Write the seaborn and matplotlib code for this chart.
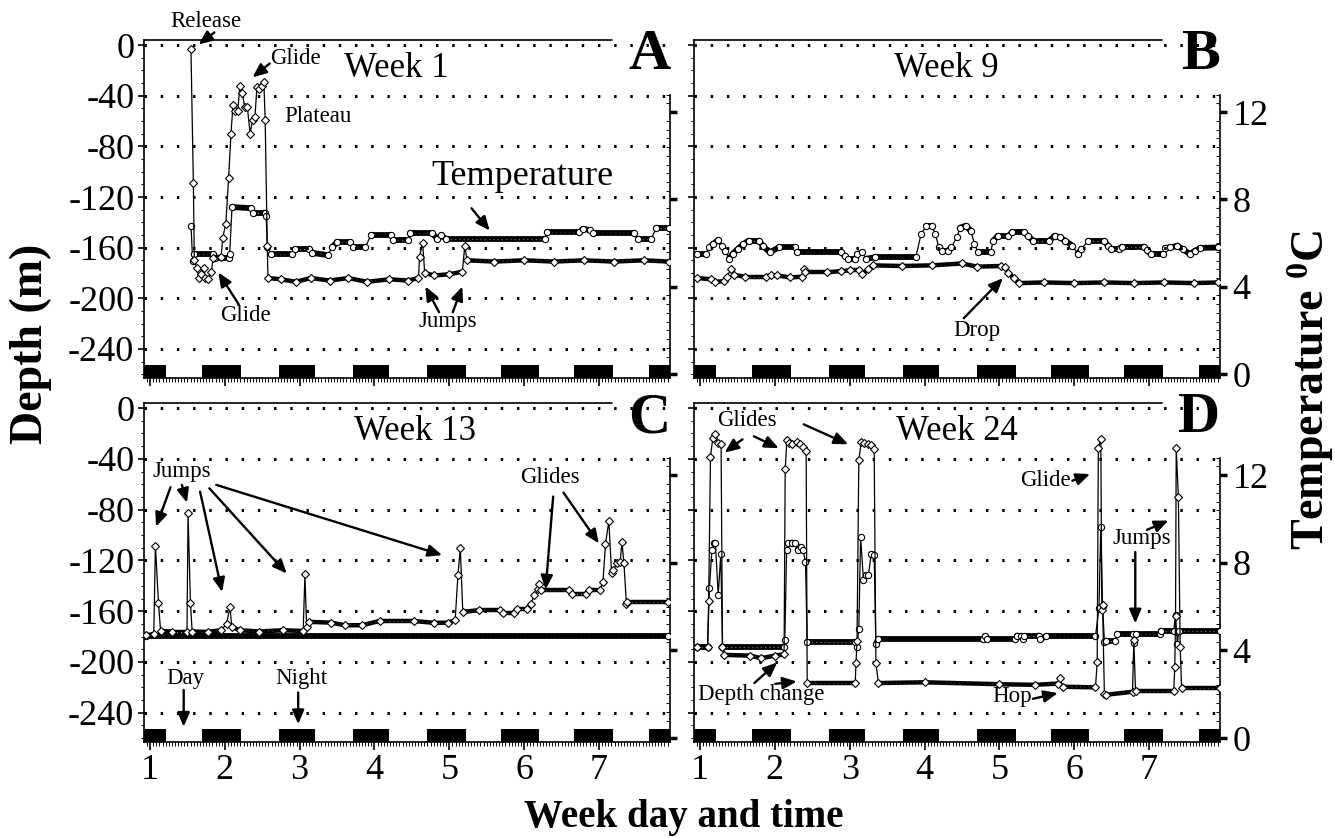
import numpy as np
import seaborn as sns
import matplotlib
matplotlib.use("Agg")
import matplotlib.pyplot as plt
from matplotlib.collections import LineCollection
from matplotlib.ticker import FixedLocator, MultipleLocator

# ---- values: (week day, value) pairs ---------------------------------------
A_DEPTH = [(1.547, -3), (1.579, -109), (1.592, -170), (1.624, -176), (1.652, -184),
           (1.684, -181), (1.716, -176), (1.739, -184), (1.775, -185), (1.821, -179),
           (1.844, -168), (1.950, -167), (1.972, -152), (2.013, -141), (2.050, -105),
           (2.082, -70), (2.109, -47), (2.141, -52), (2.173, -52), (2.201, -32),
           (2.233, -38), (2.265, -49), (2.301, -49), (2.338, -70), (2.370, -59),
           (2.402, -57), (2.429, -33), (2.461, -35), (2.493, -32), (2.521, -29),
           (2.539, -59), (2.567, -159), (2.576, -184), (2.75, -185), (2.95, -187),
           (3.15, -184), (3.40, -186), (3.65, -184), (3.90, -187), (4.20, -185),
           (4.45, -186), (4.588, -184), (4.602, -167), (4.643, -156), (4.671, -180),
           (4.80, -182), (5.00, -181), (5.174, -179), (5.206, -159), (5.238, -170),
           (5.60, -171), (6.00, -170), (6.40, -171), (6.80, -170), (7.20, -171),
           (7.60, -170), (7.93, -171)]
A_TEMP = [(1.547, 6.8), (1.570, 5.2), (1.592, 5.5), (1.844, 5.5), (1.867, 5.3),
          (2.050, 5.3), (2.064, 5.5), (2.096, 7.65), (2.347, 7.6), (2.370, 7.4),
          (2.530, 7.4), (2.553, 7.25), (2.567, 5.8), (2.620, 5.5), (2.896, 5.5),
          (2.940, 5.75), (3.125, 5.75), (3.170, 5.55), (3.376, 5.45), (3.430, 5.8),
          (3.500, 6.05), (3.674, 6.05), (3.719, 5.8), (3.879, 5.8), (3.948, 6.35),
          (4.222, 6.35), (4.245, 6.15), (4.451, 6.15), (4.474, 6.45), (4.771, 6.45),
          (4.840, 6.2), (4.890, 6.35), (4.954, 6.2), (6.281, 6.2), (6.304, 6.5),
          (6.738, 6.5), (6.784, 6.65), (6.876, 6.6), (6.921, 6.45), (7.470, 6.45),
          (7.516, 6.2), (7.699, 6.2), (7.767, 6.7), (7.93, 6.7)]

B_DEPTH = [(0.958, -184), (1.148, -185), (1.200, -187), (1.315, -186.5), (1.362, -183),
           (1.410, -177), (1.457, -181.5), (1.600, -183), (1.885, -183), (1.950, -181.5),
           (2.028, -182), (2.200, -183.5), (2.361, -183), (2.385, -177), (2.409, -179.5),
           (2.700, -179.5), (2.884, -178.5), (3.000, -178), (3.122, -178), (3.170, -181),
           (3.250, -177), (3.312, -174), (3.700, -174.5), (4.100, -174), (4.501, -172.5),
           (4.700, -175), (5.024, -174.5), (5.072, -175), (5.120, -180), (5.191, -184),
           (5.262, -188), (5.600, -187.5), (6.000, -188), (6.400, -187.5), (6.800, -188),
           (7.200, -187.5), (7.600, -188), (7.926, -187.5)]
B_TEMP = [(0.958, 5.5), (1.077, 5.5), (1.125, 5.8), (1.172, 5.95), (1.243, 6.14),
          (1.291, 5.88), (1.339, 5.65), (1.386, 5.28), (1.434, 5.5), (1.505, 5.73),
          (1.576, 5.95), (1.648, 6.11), (1.790, 6.11), (1.838, 5.88), (1.933, 5.58),
          (2.052, 5.8), (2.266, 5.8), (2.290, 5.58), (2.884, 5.58), (2.932, 5.43),
          (2.979, 5.28), (3.074, 5.28), (3.098, 5.5), (3.170, 5.58), (3.217, 5.28),
          (3.336, 5.35), (3.883, 5.35), (3.954, 6.41), (4.026, 6.79), (4.097, 6.79),
          (4.145, 6.41), (4.192, 5.8), (4.240, 5.65), (4.311, 5.65), (4.359, 5.8),
          (4.430, 6.26), (4.478, 6.71), (4.549, 6.79), (4.620, 6.56), (4.668, 5.95),
          (4.715, 5.58), (4.882, 5.58), (4.920, 6.11), (4.977, 6.33), (5.120, 6.33),
          (5.167, 6.49), (5.334, 6.49), (5.381, 6.33), (5.452, 6.11), (5.666, 6.11),
          (5.738, 6.33), (5.809, 6.26), (5.880, 6.11), (5.976, 5.88), (6.047, 5.5),
          (6.095, 5.73), (6.190, 6.11), (6.404, 6.11), (6.451, 5.88), (6.499, 5.73),
          (6.594, 5.73), (6.641, 5.84), (6.927, 5.84), (6.974, 5.69), (7.022, 5.5),
          (7.188, 5.5), (7.212, 5.78), (7.283, 5.8), (7.379, 5.88), (7.450, 5.73),
          (7.545, 5.5), (7.616, 5.65), (7.688, 5.78), (7.926, 5.8)]

C_DEPTH = [(0.943, -179), (1.050, -178), (1.072, -108.7), (1.113, -153.4), (1.141, -175.6),
           (1.300, -176), (1.494, -176), (1.508, -82.9), (1.540, -153.4), (1.563, -176),
           (1.770, -176.3), (1.954, -175), (2.023, -169.8), (2.069, -156.6), (2.092, -172.4),
           (2.200, -175), (2.459, -176), (2.781, -175), (3.047, -175.6), (3.070, -131),
           (3.093, -172.4), (3.126, -168.4), (3.424, -169), (3.608, -171.1), (3.838, -171),
           (4.068, -167.7), (4.527, -167.7), (4.800, -169.2), (4.987, -169), (5.078, -167.1),
           (5.115, -131.6), (5.147, -110.5), (5.180, -160.5), (5.400, -159.2), (5.676, -159.2),
           (5.722, -161.3), (5.860, -161.3), (5.906, -157.9), (6.043, -157.9), (6.089, -154),
           (6.135, -147.4), (6.181, -142.9), (6.204, -138.2), (6.227, -143.4), (6.595, -143.4),
           (6.641, -146.1), (6.825, -146.1), (6.871, -143.4), (7.008, -143.4), (7.054, -136.9),
           (7.087, -107.1), (7.132, -89), (7.169, -130.3), (7.192, -127.7), (7.238, -122.4),
           (7.284, -121), (7.307, -105.3), (7.334, -122.4), (7.367, -154), (7.376, -152.7),
           (7.927, -152.7)]
C_TEMP = [(0.943, 4.64), (7.927, 4.64)]

D_DEPTH = [(0.958, -188), (1.101, -188), (1.115, -151.8), (1.139, -38.4), (1.172, -23.3),
           (1.196, -20.7), (1.243, -27.6), (1.281, -28.3), (1.300, -188), (1.315, -194.4),
           (1.671, -195), (1.814, -197), (2.000, -195), (2.123, -194), (2.138, -48),
           (2.161, -24.8), (2.195, -27.4), (2.233, -28.5), (2.290, -27), (2.337, -28),
           (2.375, -30.5), (2.418, -34.2), (2.432, -216.6), (3.074, -216.6), (3.084, -201),
           (3.098, -183.4), (3.122, -41), (3.155, -26.5), (3.193, -27.3), (3.241, -28),
           (3.288, -28.8), (3.327, -32), (3.350, -201), (3.384, -216.6), (4.000, -216),
           (5.000, -217.5), (5.476, -218), (5.780, -217), (5.810, -213), (5.850, -219.5),
           (6.285, -220), (6.308, -200), (6.323, -31.6), (6.356, -24.4), (6.370, -159),
           (6.380, -155), (6.404, -225), (6.426, -225.8), (6.780, -223.5), (6.798, -183),
           (6.820, -223), (7.331, -223), (7.345, -203.6), (7.355, -164), (7.364, -31.6),
           (7.393, -70.3), (7.417, -188), (7.436, -220.5), (7.950, -220.5)]
D_TEMP = [(0.958, 4.17), (1.101, 4.17), (1.125, 6.83), (1.158, 8.58), (1.186, 8.89),
          (1.205, 8.9), (1.243, 6.53), (1.277, 8.4), (1.300, 4.17), (2.123, 4.17),
          (2.133, 4.47), (2.157, 8.58), (2.180, 8.89), (2.233, 8.92), (2.266, 8.89),
          (2.304, 8.6), (2.347, 8.72), (2.375, 8.6), (2.409, 8.05), (2.432, 4.4),
          (3.074, 4.4), (3.098, 4.17), (3.122, 5.0), (3.146, 9.2), (3.184, 7.2),
          (3.217, 7.45), (3.250, 7.45), (3.288, 8.4), (3.327, 8.37), (3.350, 4.3),
          (3.384, 4.5), (4.780, 4.5), (4.810, 4.65), (4.840, 4.5), (5.215, 4.5),
          (5.240, 4.68), (5.290, 4.68), (5.310, 4.5), (5.330, 4.68), (5.524, 4.68),
          (5.548, 4.5), (5.619, 4.65), (6.285, 4.65), (6.332, 5.92), (6.356, 9.65),
          (6.380, 6.03), (6.404, 4.4), (6.426, 4.45), (6.545, 4.45), (6.570, 4.75),
          (6.780, 4.75), (6.798, 4.33), (6.820, 4.75), (7.141, 4.75), (7.160, 4.9),
          (7.331, 4.9), (7.355, 5.62), (7.379, 4.3), (7.400, 4.9), (7.950, 4.9)]

# night bars (start, end in week days)
NIGHT_START = [0.92, 1.70, 2.72, 3.71, 4.70, 5.69, 6.67, 7.67]
NIGHT_END = [1.21, 2.21, 3.21, 4.20, 5.22, 6.20, 7.19, 7.95]

DAY_TICKS = [1, 2, 3, 4, 5, 6, 7]
DEPTH_TICKS = [0, -40, -80, -120, -160, -200, -240]
TEMP_TICKS = [0, 4, 8, 12]

# annotations: texts (label, x, depth, size) and arrows (tail, tip), depth axis units
NOTES = {
    "A": ([("Release", 1.752, 18.4, 16.5), ("Glide", 2.942, -10.5, 16.5),
           ("Plateau", 3.239, -56, 16.5), ("Temperature", 5.983, -103.9, 26),
           ("Glide", 2.278, -213.8, 16.5), ("Jumps", 4.977, -218.3, 16.5)],
          [((1.86, 10), (1.65, 0.5)), ((2.60, -14.5), (2.37, -25.5)),
           ((5.297, -128.9), (5.54, -146.5)), ((2.187, -205), (1.913, -179.6)),
           ((4.863, -211), (4.68, -190.7)), ((5.046, -211), (5.174, -190.7))]),
    "B": ([("Drop", 4.706, -225.7, 16.5)],
          [((4.525, -215.7), (5.048, -184.1))]),
    "C": ([("Jumps", 1.43, -50, 16.5), ("Glides", 6.351, -54.5, 16.5),
           ("Day", 1.47, -213, 16.5), ("Night", 3.02, -213, 16.5)],
          [((1.274, -62.4), (1.081, -93.4)), ((1.425, -60.5), (1.494, -74.5)),
           ((1.669, -65.8), (1.963, -144.8)), ((1.793, -63.2), (2.827, -130.3)),
           ((1.885, -60.5), (4.904, -115.8)), ((6.388, -69.7), (6.287, -142.9)),
           ((6.526, -66.6), (6.999, -106.6)), ((1.45, -222), (1.45, -251)),
           ((2.98, -224), (2.98, -249))]),
    "D": ([("Glides", 1.624, -9.7, 16.5), ("Glide", 5.619, -57.2, 16.5),
           ("Jumps", 6.903, -103, 16.5), ("Depth change", 1.82, -225.8, 16.5),
           ("Hop", 5.171, -227, 16.5)],
          [((1.567, -24.6), (1.329, -35)), ((1.719, -22.2), (2.052, -31.6)),
           ((2.385, -12.8), (2.979, -28.5)), ((5.976, -57.2), (6.213, -52)),
           ((6.974, -95.9), (7.26, -88.6)), ((6.817, -113.4), (6.817, -169.6)),
           ((1.726, -216.6), (2.031, -200.4)), ((2.004, -217.2), (2.293, -215.4)),
           ((5.449, -229), (5.782, -224.5))]),
}

PANELS = [  # letter, depth, temp, title, title x (axes frac), box, left labels, bottom labels
    ("A", A_DEPTH, A_TEMP, "Week 1", 0.48, [0.1079, 0.5489, 0.394, 0.4033], True, False),
    ("B", B_DEPTH, B_TEMP, "Week 9", 0.48, [0.5199, 0.5489, 0.394, 0.4033], False, False),
    ("C", C_DEPTH, C_TEMP, "Week 13", 0.515, [0.1079, 0.1146, 0.394, 0.4045], True, True),
    ("D", D_DEPTH, D_TEMP, "Week 24", 0.50, [0.5199, 0.1146, 0.394, 0.4045], False, True),
]

X_LIM = (0.92, 7.95)
DEPTH_LIM = (-263, 4)
TEMP_LIM = (-0.18, 15.3)
PX_DAY, PX_M, PX_C = 75.0, 1.27, 21.9

sns.set_theme(style="ticks")
plt.rcParams["font.family"] = ["Liberation Serif", "DejaVu Serif"]
plt.rcParams["axes.unicode_minus"] = False
plt.rcParams["mathtext.fontset"] = "custom"
plt.rcParams["mathtext.rm"] = "Liberation Serif"
plt.rcParams["mathtext.bf"] = "Liberation Serif:bold"
for k in ["axes.edgecolor", "xtick.color", "ytick.color", "text.color",
          "axes.labelcolor", "xtick.labelcolor", "ytick.labelcolor"]:
    plt.rcParams[k] = "black"

ARROW = dict(arrowstyle="-|>,head_length=0.7,head_width=0.3", color="black",
             lw=1.7, shrinkA=0, shrinkB=0)


def plot_series(ax, pairs, marker, msize, band_lw, px_unit):
    t = np.array([p[0] for p in pairs])
    v = np.array([p[1] for p in pairs])
    # slow stretches look like a thick bead chain in the original (dense samples)
    flat = np.abs(np.diff(v)) * px_unit <= 3 + 0.6 * np.diff(t) * PX_DAY
    segs = [[(t[i], v[i]), (t[i + 1], v[i + 1])] for i in np.flatnonzero(flat)]
    ax.add_collection(LineCollection(segs, colors="black", linewidths=band_lw,
                                     capstyle="round", zorder=3))
    ax.add_collection(LineCollection(segs, colors="#b0b0b0", linewidths=0.9,
                                     linestyles=[(0, (1.0, 2.4))], zorder=3.2))
    sns.lineplot(x=t, y=v, ax=ax, sort=False, estimator=None, color="black",
                 linewidth=0.9, marker=marker, markersize=msize,
                 markerfacecolor="white", markeredgecolor="black",
                 markeredgewidth=0.8, zorder=4)


fig = plt.figure(figsize=(13.35, 8.38), dpi=100)

for key, depth, temp, title, title_x, box, left, bottom in PANELS:
    ax = fig.add_axes(box)
    ax2 = ax.twinx()
    ax.set_zorder(2)
    ax2.set_zorder(1)
    ax.patch.set_visible(False)

    ax.bar(NIGHT_START, 10.5, width=np.subtract(NIGHT_END, NIGHT_START),
           bottom=DEPTH_LIM[0], align="edge", color="black", linewidth=0, zorder=2)
    plot_series(ax2, temp, "o", 4.5, 4.2, PX_C)
    plot_series(ax, depth, "D", 3.6, 3.2, PX_M)

    ax.set_xlim(X_LIM)
    ax.set_ylim(DEPTH_LIM)
    ax2.set_ylim(TEMP_LIM)
    ax.set_xlabel("")
    ax.set_ylabel("")
    ax2.set_ylabel("")

    ax.set_yticks(DEPTH_TICKS)
    ax.set_yticklabels([str(d) for d in DEPTH_TICKS])
    ax.yaxis.grid(True, linestyle=(0, (0.8, 4.5)), linewidth=2.2, color="black")
    ax.xaxis.grid(False)
    ax.set_xticks(DAY_TICKS)
    ax.set_xticklabels([str(d) for d in DAY_TICKS])
    ax.xaxis.set_minor_locator(MultipleLocator(1 / 24))
    ax.yaxis.set_minor_locator(MultipleLocator(10))
    ax.tick_params(axis="x", which="major", direction="out", length=6, width=1.2,
                   labelsize=26, pad=3, bottom=True, labelbottom=bottom)
    ax.tick_params(axis="x", which="minor", direction="out", length=3, width=0.7, bottom=True)
    ax.tick_params(axis="y", which="major", direction="out", length=4, width=1.2,
                   labelsize=26, pad=3, left=True, right=False, labelleft=left)
    ax.tick_params(axis="y", which="minor", direction="out", length=2.5, width=0.7,
                   left=True, right=False)

    ax2.set_yticks(TEMP_TICKS)
    ax2.set_yticklabels([str(d) for d in TEMP_TICKS])
    ax2.yaxis.set_minor_locator(FixedLocator(np.arange(0, 12.81, 0.4)))
    ax2.tick_params(axis="y", which="major", direction="out", length=5, width=2.5,
                    labelsize=26, pad=4, right=True, labelright=not left)
    ax2.tick_params(axis="y", which="minor", direction="in", length=3, width=0.7, right=True)

    for s in ["top", "right"]:
        ax.spines[s].set_visible(False)
    for s in ["top", "left", "bottom"]:
        ax2.spines[s].set_visible(False)
    for sp in [ax.spines["left"], ax.spines["bottom"], ax2.spines["right"]]:
        sp.set_linewidth(1.2)
    ax2.spines["right"].set_bounds(TEMP_LIM[0], 12.8)
    ax.plot([0, 0.89], [1, 1], transform=ax.transAxes, color="black", lw=1.2,
            clip_on=False, zorder=5)

    ax.text(title_x, 0.915, title, transform=ax.transAxes, ha="center", va="center",
            fontsize=25)
    ax.text(1.0, 0.955, key, transform=ax.transAxes, ha="right", va="center",
            fontsize=42, fontweight="bold")

    texts, arrows = NOTES[key]
    for label, x, y, size in texts:
        ax.text(x, y, label, ha="center", va="center", fontsize=size, zorder=6,
                clip_on=False)
    for tail, tip in arrows:
        ax.annotate("", xy=tip, xytext=tail, arrowprops=ARROW, annotation_clip=False,
                    zorder=6)

fig.text(0.023, 0.59, "Depth (m)", rotation=90, ha="center", va="center",
         fontsize=33, fontweight="bold")
fig.text(0.982, 0.535, r"Temperature $\mathbf{^0}$C", rotation=90, ha="center",
         va="center", fontsize=33, fontweight="bold")
fig.text(0.512, 0.024, "Week day and time", ha="center", va="center",
         fontsize=28, fontweight="bold")

fig.savefig("out.png", dpi=100, facecolor="white")
